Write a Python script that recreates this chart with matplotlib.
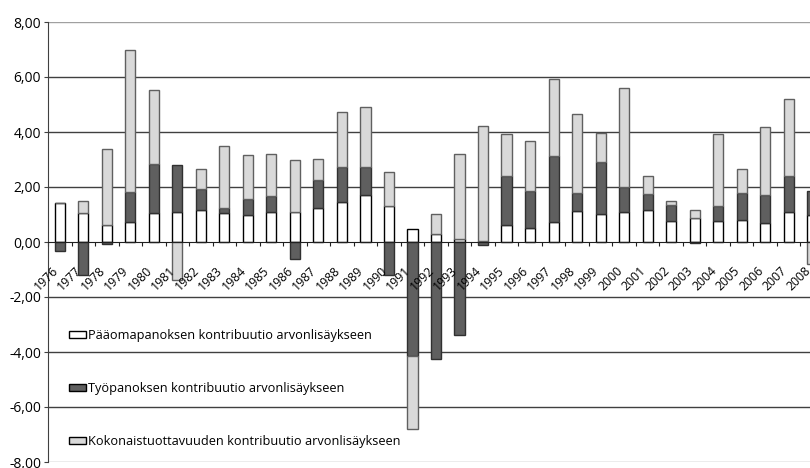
import matplotlib.pyplot as plt
import numpy as np
from matplotlib.ticker import FuncFormatter
from matplotlib.patches import Patch

plt.rcParams['font.family'] = ['Open Sans', 'DejaVu Sans']

years = list(range(1976, 2009))
# contributions to value added growth (%-points)
capital = [1.43, 1.07, 0.62, 0.73, 1.04, 1.10, 1.15, 1.07, 0.97, 1.08,
           1.10, 1.22, 1.45, 1.71, 1.30, 0.48, 0.29, 0.10, 0.02, 0.61,
           0.52, 0.73, 1.12, 1.03, 1.08, 1.16, 0.78, 0.88, 0.75, 0.81,
           0.69, 1.08, 0.98]
labour = [-0.33, -1.19, -0.08, 1.09, 1.80, 1.69, 0.79, 0.17, 0.58, 0.58,
          -0.63, 1.05, 1.29, 1.02, -1.19, -4.15, -4.24, -3.39, -0.10, 1.78,
          1.33, 2.39, 0.67, 1.89, 0.93, 0.57, 0.57, -0.04, 0.57, 0.97,
          1.01, 1.31, 0.87]
tfp = [0.0, 0.43, 2.78, 5.16, 2.68, -1.38, 0.73, 2.25, 1.61, 1.54,
       1.89, 0.75, 1.98, 2.17, 1.26, -2.64, 0.72, 3.10, 4.21, 1.54,
       1.81, 2.81, 2.88, 1.03, 3.60, 0.68, 0.14, 0.27, 2.61, 0.86,
       2.49, 2.82, -0.80]

labels = ['Pääomapanoksen kontribuutio arvonlisäykseen',
          'Työpanoksen kontribuutio arvonlisäykseen',
          'Kokonaistuottavuuden kontribuutio arvonlisäykseen']
fills = ['white', '#5f5f5f', '#d9d9d9']
edges = ['black', '#303030', '#606060']

x = np.arange(len(years))
width = 0.43

fig = plt.figure(figsize=(8.1, 4.68), dpi=100)
ax = fig.add_axes([48 / 810, 6 / 468, 776 / 810, 440 / 468])

# stack positives upward and negatives downward, as in the original
pos_bottom = np.zeros(len(years))
neg_bottom = np.zeros(len(years))
for vals, fc, ec in zip([capital, labour, tfp], fills, edges):
    v = np.array(vals)
    bottom = np.where(v >= 0, pos_bottom, neg_bottom)
    ax.bar(x, v, width, bottom=bottom, color=fc, edgecolor=ec, linewidth=1.0, zorder=3)
    pos_bottom += np.where(v >= 0, v, 0)
    neg_bottom += np.where(v < 0, v, 0)

ax.set_xlim(-0.5, len(years) - 0.5)
ax.set_ylim(-8, 8)

# horizontal gridlines
for y in range(-8, 9, 2):
    if y == 0:
        continue
    col = '#a0a0a0' if abs(y) == 8 else '#404040'
    ax.axhline(y, color=col, linewidth=1.0, zorder=1)

for side in ['top', 'right']:
    ax.spines[side].set_visible(False)
ax.spines['left'].set_color('#404040')
ax.spines['bottom'].set_position(('data', 0))
ax.spines['bottom'].set_color('#202020')
ax.spines['bottom'].set_zorder(4)

ax.set_yticks(range(-8, 9, 2))
ax.yaxis.set_major_formatter(FuncFormatter(lambda v, p: f'{v:.2f}'.replace('.', ',')))
ax.tick_params(axis='y', length=3, width=0.8, color='#404040', pad=2, labelsize=10)
ax.set_xticks(np.arange(-0.5, len(years), 1))
ax.set_xticklabels([])
ax.tick_params(axis='x', length=3, width=0.8, color='#202020', direction='out')

for i, yr in enumerate(years):
    ax.text(i - 0.36, -0.8, str(yr), rotation=45, rotation_mode='anchor',
            ha='right', va='top', fontsize=8.8)

handles = [Patch(facecolor=fc, edgecolor='black', linewidth=1.0) for fc in fills]
ax.legend(handles, labels, loc='lower left', bbox_to_anchor=(0.012, 0.005),
          frameon=False, fontsize=9.2, handlelength=1.35, handleheight=0.5,
          handletextpad=0.15, labelspacing=3.15)

plt.savefig('out.png', dpi=100)
